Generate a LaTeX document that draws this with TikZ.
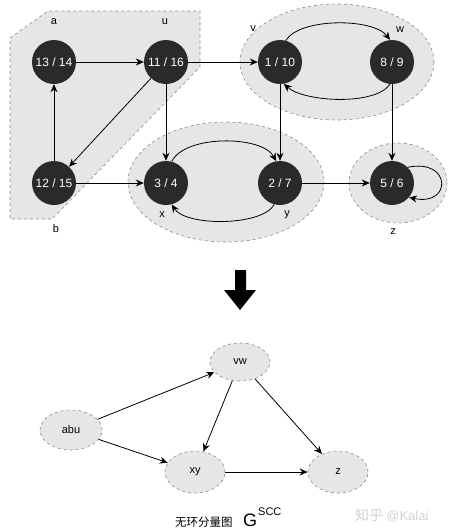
\documentclass[tikz,border=0pt]{standalone}
\usepackage{fontspec}
\setmainfont{Liberation Sans}
\newfontfamily\cjk{Noto Sans CJK SC}
\usetikzlibrary{arrows.meta,shapes.geometric}
\definecolor{nodefill}{HTML}{2A2A2A}
\definecolor{regfill}{HTML}{E6E6E6}
\definecolor{dashgray}{HTML}{8C8C8C}
\definecolor{wmgray}{HTML}{D2D2D2}
\begin{document}
\begin{tikzpicture}[x=1pt,y=-1pt,
  vert/.style={circle, fill=nodefill, minimum size=44pt, inner sep=0pt, text=white, font=\fontsize{12}{14}\selectfont},
  region/.style={draw=dashgray, dashed, fill=regfill, line width=0.6pt},
  arr/.style={-{Stealth[length=8pt,width=7pt]}, line width=0.8pt},
  lbl/.style={font=\fontsize{11}{13}\selectfont, inner sep=0pt},
  sccnode/.style={ellipse, draw=dashgray, dashed, fill=regfill, line width=0.6pt, minimum width=60pt, minimum height=40pt, inner sep=0pt, font=\fontsize{11}{13}\selectfont}
]
\useasboundingbox (0,0) rectangle (449,531);
% component regions
\draw[region] (10,38) -- (48,11) -- (200,11) -- (200,67) -- (52,219) -- (10,219) -- cycle;
\draw[region] (337,62) ellipse [x radius=97, y radius=58];
\draw[region] (226,182) ellipse [x radius=98, y radius=60];
\draw[region] (398,183) ellipse [x radius=49, y radius=40];
% vertices
\node[vert] (a) at (54,62) {13 / 14};
\node[vert] (u) at (166,62) {11 / 16};
\node[vert] (b) at (54,183) {12 / 15};
\node[vert] (x) at (166,183) {3 / 4};
\node[vert] (v) at (280,62) {1 / 10};
\node[vert] (w) at (392,62) {8 / 9};
\node[vert] (y) at (280,183) {2 / 7};
\node[vert] (z) at (392,183) {5 / 6};
% labels
\node[lbl] (la) at (54,22) {a};
\node[lbl] (lu) at (165,22) {u};
\node[lbl] (lb) at (56,229) {b};
\node[lbl] (lx) at (162,215) {x};
\node[lbl] (lv) at (253,29) {v};
\node[lbl] (lw) at (400,30) {w};
\node[lbl] (ly) at (287,215) {y};
\node[lbl] (lz) at (393,232) {z};
% edges
\draw[arr] (a) -- (u);
\draw[arr] (u) -- (v);
\draw[arr] (b) -- (a);
\draw[arr] (u) -- (b);
\draw[arr] (u) -- (x);
\draw[arr] (b) -- (x);
\draw[arr] (v) -- (y);
\draw[arr] (w) -- (z);
\draw[arr] (y) -- (z);
\draw[arr] (v.75) .. controls +(14,-23) and +(-17,-22) .. (w.95);
\draw[arr] (w.265) .. controls +(-15,22) and +(20,18) .. (v.280);
\draw[arr] (x.75) .. controls +(13,-27) and +(-14,-26) .. (y.100);
\draw[arr] (y.255) .. controls +(-12,22) and +(14,22) .. (x.285);
\draw[arr] (z.45) .. controls (452,158) and (452,207) .. (z.-40);
% big arrow
\fill[black] (235,270) -- (246,270) -- (246,290) -- (256,290) -- (240,310) -- (224,290) -- (235,290) -- cycle;
% condensed graph
\node[sccnode, minimum height=38pt] (gvw) at (240,362) {vw};
\node[sccnode, minimum width=62pt] (gabu) at (71,430) {abu};
\node[sccnode, minimum height=42pt] (gxy) at (195,472) {xy};
\node[sccnode, minimum height=42pt] (gz) at (338,472) {z};
\draw[arr] (gabu) -- (gvw);
\draw[arr] (gabu) -- (gxy);
\draw[arr] (gvw) -- (gxy);
\draw[arr] (gvw) -- (gz);
\draw[arr] (gxy) -- (gz);
% caption
\node[anchor=base west, inner sep=0pt] (cap) at (175,526) {\cjk\fontsize{11.5}{13}\selectfont 无环分量图};
\node[anchor=base west, inner sep=0pt] (capg) at (243,526) {\fontsize{18}{20}\selectfont G};
\node[anchor=base west, inner sep=0pt] (caps) at (258,515) {\fontsize{11}{13}\selectfont SCC};
% watermark
\node[anchor=base west, inner sep=0pt, text=wmgray] (wm) at (355,520) {\cjk\fontsize{14}{16}\selectfont 知乎 \fontsize{13}{15}\selectfont\rmfamily @Kalai};
\end{tikzpicture}
\end{document}
